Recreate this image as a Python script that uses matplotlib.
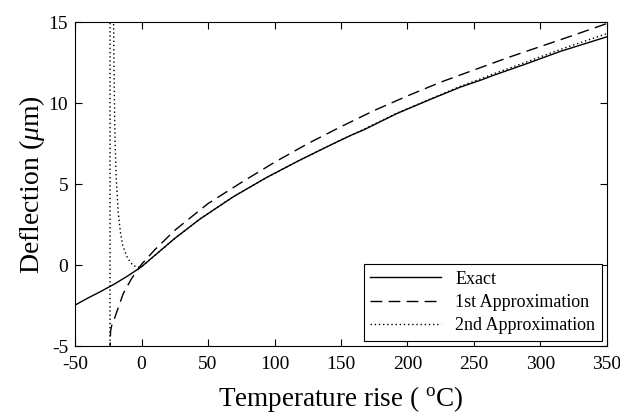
import matplotlib
matplotlib.use("Agg")
import matplotlib.pyplot as plt

plt.rcParams['font.family'] = ['Liberation Serif', 'DejaVu Serif']
plt.rcParams['mathtext.fontset'] = 'custom'
plt.rcParams['mathtext.rm'] = 'Liberation Serif'
plt.rcParams['mathtext.it'] = 'Liberation Serif:italic'
plt.rcParams['axes.unicode_minus'] = False

# exact solution
t_exact = [-50, -40, -30, -20, -10, 0, 10, 25, 44, 69, 94, 119, 142, 157, 167,
           192, 217, 240, 255, 265, 290, 315, 350]
y_exact = [-2.47, -2.02, -1.6, -1.15, -0.65, -0.1, 0.6, 1.65, 2.85, 4.22, 5.41,
           6.48, 7.41, 8.0, 8.35, 9.36, 10.23, 11.0, 11.42, 11.73, 12.45, 13.2, 14.1]

# first approximation
t_first = [-23.7, -23.3, -22.5, -19.9, -13.7, -7.4, 0, 10, 25, 50, 75, 100, 125,
           150, 175, 200, 225, 250, 275, 300, 325, 350]
y_first = [-5.5, -4.1, -3.75, -3.19, -1.75, -0.82, 0.05, 0.95, 2.15, 3.8, 5.1,
           6.35, 7.5, 8.55, 9.55, 10.45, 11.3, 12.05, 12.8, 13.5, 14.2, 14.92]

# second approximation (singular near -23.7)
t_second = [-23.9, -23.5, -21.0, -20.8, -20.5, -20.2, -19.8, -19.0, -17.6, -15.8,
            -14.1, -10.5, -6.6, -3.5, 0, 10, 25, 44, 69, 94, 119, 142, 167, 192,
            217, 240, 255, 265, 290, 315, 350]
y_second = [-1000, 1000, 15, 13, 11, 9, 7.4, 5.4, 3.3, 2.0, 1.2, 0.43, 0.0, -0.12,
            -0.1, 0.6, 1.65, 2.85, 4.22, 5.41, 6.48, 7.42, 8.38, 9.38, 10.25, 11.05,
            11.5, 11.82, 12.56, 13.32, 14.3]

fig = plt.figure(figsize=(6.2, 4.19), dpi=100)
ax = fig.add_axes([0.121, 0.174, 0.858, 0.773])

ax.plot(t_exact, y_exact, color='black', lw=1.0, label='Exact')
ax.plot(t_first, y_first, color='black', lw=1.0, dashes=(8.5, 4.5), label='1st Approximation')
ax.plot(t_second, y_second, color='black', lw=1.0, dashes=(1, 2), label='2nd Approximation')

ax.set_xlim(-50, 350)
ax.set_ylim(-5, 15)
ax.set_xticks(range(-50, 351, 50))
ax.set_yticks(range(-5, 16, 5))
ax.tick_params(direction='in', top=True, right=True, length=5, width=0.8,
               labelsize=14, pad=5)
ax.tick_params(axis='x', pad=7)
for s in ax.spines.values():
    s.set_linewidth(0.8)

ax.set_xlabel('Temperature rise ( $^{\\rm o}$C)', fontsize=19.5, labelpad=8)
ax.set_ylabel('Deflection ($\\mu$m)', fontsize=20, labelpad=1)

leg = ax.legend(loc='lower right', fontsize=13, handlelength=3.9, frameon=True,
                fancybox=False, edgecolor='black', framealpha=1,
                borderaxespad=0.3, labelspacing=0.35, borderpad=0.35, handletextpad=0.8)
leg.get_frame().set_linewidth(0.8)

fig.savefig('out.png', dpi=100)
